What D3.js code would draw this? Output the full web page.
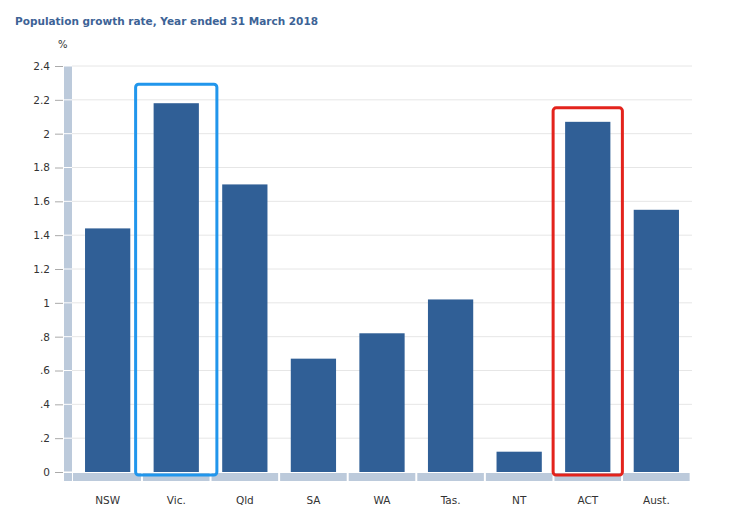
<!DOCTYPE html>
<html>
<head>
<meta charset="utf-8">
<script src="https://cdn.jsdelivr.net/npm/d3@7"></script>
<style>
  body { margin: 0; background: #fff; }
  text { font-family: "DejaVu Sans", Verdana, sans-serif; }
</style>
</head>
<body>
<div id="viz"></div>
<script>
// data
let states = ["NSW", "Vic.", "Qld", "SA", "WA", "Tas.", "NT", "ACT", "Aust."]
let growth = [1.44, 2.18, 1.70, 0.67, 0.82, 1.02, 0.12, 2.07, 1.55]
let yTicks = [0, 0.2, 0.4, 0.6, 0.8, 1, 1.2, 1.4, 1.6, 1.8, 2, 2.2, 2.4]
let highlighted = ["Vic.", "ACT"]
let highlightColors = ["#2196ec", "#e3231c"]
let title = "Population growth rate, Year ended 31 March 2018"

let data = states.map((s, i) => ({ state: s, value: growth[i] }))

//global
let W = 737, H = 515
let margin = { left: 72, right: 45, top: 66, bottom: 43 }
let width = W - margin.left - margin.right
let height = H - margin.top - margin.bottom

let root = d3.select("#viz")
  .append("svg")
    .attr("width", W)
    .attr("height", H)

// title + unit
root.append("text")
    .attr("x", 15).attr("y", 25)
    .attr("fill", "#3d6396")
    .attr("font-size", 10.5)
    .attr("font-weight", "bold")
    .text(title)

root.append("text")
    .attr("x", 58).attr("y", 48)
    .attr("fill", "#333")
    .attr("font-size", 10)
    .text("%")

let svg = root.append("g")
    .attr("transform", "translate(" + margin.left + "," + margin.top + ")")

// scales
let xScale = d3.scaleBand()
    .domain(states)
    .range([0, width])
    .paddingInner(0.34)
    .paddingOuter(0.19)

let yScale = d3.scaleLinear()
    .domain([0, 2.4])
    .range([height, 0])

// gridlines
svg.selectAll(".grid")
  .data(yTicks.filter(d => d > 0))
  .join("line")
    .attr("class", "grid")
    .attr("x1", 0).attr("x2", width)
    .attr("y1", d => yScale(d)).attr("y2", d => yScale(d))
    .attr("stroke", "#e6e6e6")
    .attr("stroke-width", 1)

// stippled axis strips
let stripColor = "#bccadb"
let ySeg = d3.pairs(yTicks)
svg.selectAll(".ystrip")
  .data(ySeg)
  .join("rect")
    .attr("class", "ystrip")
    .attr("x", -8).attr("width", 8)
    .attr("y", d => yScale(d[1]) + 0.5)
    .attr("height", d => yScale(d[0]) - yScale(d[1]) - 1)
    .attr("fill", stripColor)

svg.append("rect")
    .attr("x", -8).attr("width", 8)
    .attr("y", height + 1).attr("height", 8)
    .attr("fill", stripColor)

let step = xScale.step()
svg.selectAll(".xstrip")
  .data(states)
  .join("rect")
    .attr("class", "xstrip")
    .attr("x", (d, i) => i == 0 ? 1 : xScale(d) - step * xScale.paddingInner() / 2 + 1)
    .attr("width", (d, i) => i == 0 ? xScale(d) + xScale.bandwidth() + step * xScale.paddingInner() / 2 - 2
                                     : step - 2)
    .attr("y", height + 1).attr("height", 8)
    .attr("fill", stripColor)

// bars
svg.selectAll(".bar")
  .data(data)
  .join("rect")
    .attr("class", "bar")
    .attr("x", d => xScale(d.state))
    .attr("width", xScale.bandwidth())
    .attr("y", d => yScale(d.value))
    .attr("height", d => height - yScale(d.value))
    .attr("fill", "#305f96")

// axis
let yAxis = d3.axisLeft(yScale)
    .tickValues(yTicks)
    .tickSize(8)
    .tickFormat(d => d == 0 ? "0" : d3.format("~g")(d).replace(/^0/, ""))

svg.append("g")
    .attr("id", "y-axis")
    .attr("transform", "translate(-9,0)")
    .call(yAxis)
    .call(g => g.select(".domain").remove())
    .call(g => g.selectAll(".tick line").attr("stroke", "#aaa"))
    .call(g => g.selectAll(".tick text").attr("font-size", 10.5).attr("fill", "#333").attr("x", -13))

let xAxis = d3.axisBottom(xScale).tickSize(0)
svg.append("g")
    .attr("id", "x-axis")
    .attr("transform", "translate(0," + (height + 22) + ")")
    .call(xAxis)
    .call(g => g.select(".domain").remove())
    .call(g => g.selectAll(".tick text").attr("font-size", 10.5).attr("fill", "#333"))

// highlight boxes
let boxPad = [18, 12]
let boxTop = [19, 14]
highlighted.forEach((s, i) => {
    let v = data.find(d => d.state == s).value
    svg.append("rect")
        .attr("x", xScale(s) - boxPad[i])
        .attr("width", xScale.bandwidth() + boxPad[i] * 2)
        .attr("y", yScale(v) - boxTop[i])
        .attr("height", height - yScale(v) + boxTop[i] + 3)
        .attr("rx", 3)
        .attr("fill", "none")
        .attr("stroke", highlightColors[i])
        .attr("stroke-width", 3)
})
</script>
</body>
</html>
